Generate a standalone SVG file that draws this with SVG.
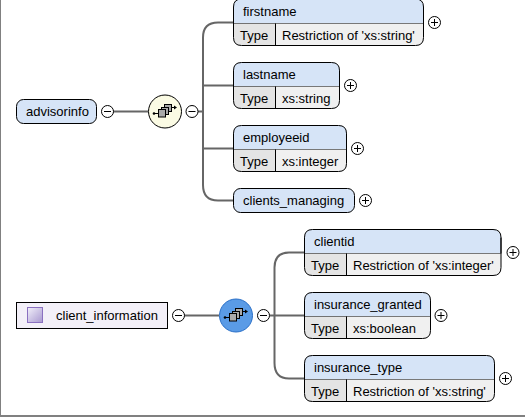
<svg xmlns="http://www.w3.org/2000/svg" width="525" height="417" viewBox="0 0 525 417">
<style>
text{font-family:"Liberation Sans",Arial,sans-serif;font-size:13px;fill:#000}
.el{fill:#d6e4f7;stroke:#000;stroke-width:1}
.ty{fill:#f0f0f0}
.tl{fill:#e4e4e4}
.ln{fill:none;stroke:#000;stroke-width:1}
.c{fill:none;stroke:#666;stroke-width:2}
.b{fill:#fff;stroke:#000;stroke-width:1}
.s{fill:none;stroke:#000;stroke-width:1}
.sq{fill:#aaa;stroke:#000;stroke-width:1}
</style>
<defs>
<g id="plus"><circle class="b" r="6"/><path class="s" d="M-3.500 0H3.500M0-3.500V3.500"/></g>
<g id="minus"><circle class="b" r="6"/><path class="s" d="M-3.500 0H3.500"/></g>
<g id="seq"><path class="s" d="M-11 2H-6M7 -4H10"/><circle r="1.300" cx="-11" cy="2"/><path d="M12 -4L9 -6V-2Z"/><rect class="sq" x="-0.500" y="-7" width="7" height="7"/><rect class="sq" x="-3.500" y="-4" width="7" height="7"/><rect class="sq" x="-6.500" y="-2" width="7" height="7.500"/></g>
<linearGradient id="g" x1="0" y1="0" x2="1" y2="1"><stop offset="0" stop-color="#f2f0fa"/><stop offset="1" stop-color="#a898d0"/></linearGradient>
</defs>
<rect width="525" height="417" fill="#fff"/>
<path d="M0 0V416H525" fill="none" stroke="#808080" stroke-width="2"/>
<g id="connectors">
<path class="c" d="M113 111.500H148M198 111.500H203M233 22.500H218Q203 22.500 203 37.500V185Q203 200.500 218 200.500H233M203 85.500H233M203 148.500H233"/>
<path class="c" d="M184 315.500H219M269.500 315.500H304M304 252.500H289Q274.500 252.500 274.500 267.500V363Q274.500 378.500 289 378.500H304"/>
</g>
<g id="advisorinfo"><rect class="el" x="16.500" y="99.500" width="80" height="24" rx="7"/><text x="26" y="116">advisorinfo</text><use href="#minus" x="107.500" y="111.500"/></g>
<g id="seq1"><circle cx="165" cy="111.500" r="16.500" fill="#fbfbe4" stroke="#000"/><use href="#seq" x="165" y="111.500"/><use href="#minus" x="192" y="111.500"/></g>
<g id="firstname"><path class="el" d="M233.500 23.500V7Q233.500 -1 241.500 -1H415.500Q423.500 -1 423.500 7V23.500Z"/><path class="tl" d="M233.500 23.500H275.500V45.500H241.500Q233.500 45.500 233.500 37.500Z"/><path class="ty" d="M275.500 23.500H423.500V37.500Q423.500 45.500 415.500 45.500H275.500Z"/><path class="ln" d="M233.500 7V37.500Q233.500 45.500 241.500 45.500H415.500Q423.500 45.500 423.500 37.500V7M275.500 23.500V45.500"/><text x="243" y="16">firstname</text><text x="240" y="40">Type</text><text x="282" y="40">Restriction of 'xs:string'</text><use href="#plus" x="434.500" y="22.500"/></g>
<g id="lastname"><path class="el" d="M233.500 86.500V70.500Q233.500 62.500 241.500 62.500H331.500Q339.500 62.500 339.500 70.500V86.500Z"/><path class="tl" d="M233.500 86.500H275.500V108.500H241.500Q233.500 108.500 233.500 100.500Z"/><path class="ty" d="M275.500 86.500H339.500V100.500Q339.500 108.500 331.500 108.500H275.500Z"/><path class="ln" d="M233.500 70.500V100.500Q233.500 108.500 241.500 108.500H331.500Q339.500 108.500 339.500 100.500V70.500M275.500 86.500V108.500"/><text x="243" y="79">lastname</text><text x="240" y="103">Type</text><text x="282" y="103">xs:string</text><use href="#plus" x="350.500" y="85.500"/></g>
<g id="employeeid"><path class="el" d="M233.500 149.500V133.500Q233.500 125.500 241.500 125.500H338.500Q346.500 125.500 346.500 133.500V149.500Z"/><path class="tl" d="M233.500 149.500H275.500V171.500H241.500Q233.500 171.500 233.500 163.500Z"/><path class="ty" d="M275.500 149.500H346.500V163.500Q346.500 171.500 338.500 171.500H275.500Z"/><path class="ln" d="M233.500 133.500V163.500Q233.500 171.500 241.500 171.500H338.500Q346.500 171.500 346.500 163.500V133.500M275.500 149.500V171.500"/><text x="243" y="142">employeeid</text><text x="240" y="166">Type</text><text x="282" y="166">xs:integer</text><use href="#plus" x="357.500" y="148.500"/></g>
<g id="clients_managing"><rect class="el" x="233.500" y="188.500" width="121" height="24" rx="7"/><text x="243" y="205">clients_managing</text><use href="#plus" x="365.500" y="200.500"/></g>
<g id="client_information"><rect x="16.500" y="302.500" width="151" height="26" fill="#f3f0f8" stroke="#000"/><rect x="27.500" y="307.500" width="15" height="15" fill="url(#g)" stroke="#8a70c0"/><text x="56" y="320">client_information</text><use href="#minus" x="178.500" y="315.500"/></g>
<g id="seq2"><circle cx="236" cy="315.500" r="16.500" fill="#5a9be6" stroke="#2a70c8"/><use href="#seq" x="236" y="315.500"/><use href="#minus" x="263.500" y="315.500"/></g>
<g id="clientid"><path class="el" d="M304.500 253.500V237.500Q304.500 229.500 312.500 229.500H493Q501 229.500 501 237.500V253.500Z"/><path class="tl" d="M304.500 253.500H346.500V275.500H312.500Q304.500 275.500 304.500 267.500Z"/><path class="ty" d="M346.500 253.500H501V267.500Q501 275.500 493 275.500H346.500Z"/><path class="ln" d="M304.500 237.500V267.500Q304.500 275.500 312.500 275.500H493Q501 275.500 501 267.500V237.500M346.500 253.500V275.500"/><text x="314" y="246">clientid</text><text x="311" y="270">Type</text><text x="353" y="270">Restriction of 'xs:integer'</text><use href="#plus" x="513" y="252.500"/></g>
<g id="insurance_granted"><path class="el" d="M304.500 316.500V300.500Q304.500 292.500 312.500 292.500H422.500Q430.500 292.500 430.500 300.500V316.500Z"/><path class="tl" d="M304.500 316.500H346.500V338.500H312.500Q304.500 338.500 304.500 330.500Z"/><path class="ty" d="M346.500 316.500H430.500V330.500Q430.500 338.500 422.500 338.500H346.500Z"/><path class="ln" d="M304.500 300.500V330.500Q304.500 338.500 312.500 338.500H422.500Q430.500 338.500 430.500 330.500V300.500M346.500 316.500V338.500"/><text x="314" y="309">insurance_granted</text><text x="311" y="333">Type</text><text x="353" y="333">xs:boolean</text><use href="#plus" x="441" y="315.500"/></g>
<g id="insurance_type"><path class="el" d="M304.500 379.500V363.500Q304.500 355.500 312.500 355.500H486.500Q494.500 355.500 494.500 363.500V379.500Z"/><path class="tl" d="M304.500 379.500H346.500V401.500H312.500Q304.500 401.500 304.500 393.500Z"/><path class="ty" d="M346.500 379.500H494.500V393.500Q494.500 401.500 486.500 401.500H346.500Z"/><path class="ln" d="M304.500 363.500V393.500Q304.500 401.500 312.500 401.500H486.500Q494.500 401.500 494.500 393.500V363.500M346.500 379.500V401.500"/><text x="314" y="372">insurance_type</text><text x="311" y="396">Type</text><text x="353" y="396">Restriction of 'xs:string'</text><use href="#plus" x="505.500" y="378.500"/></g>
</svg>
